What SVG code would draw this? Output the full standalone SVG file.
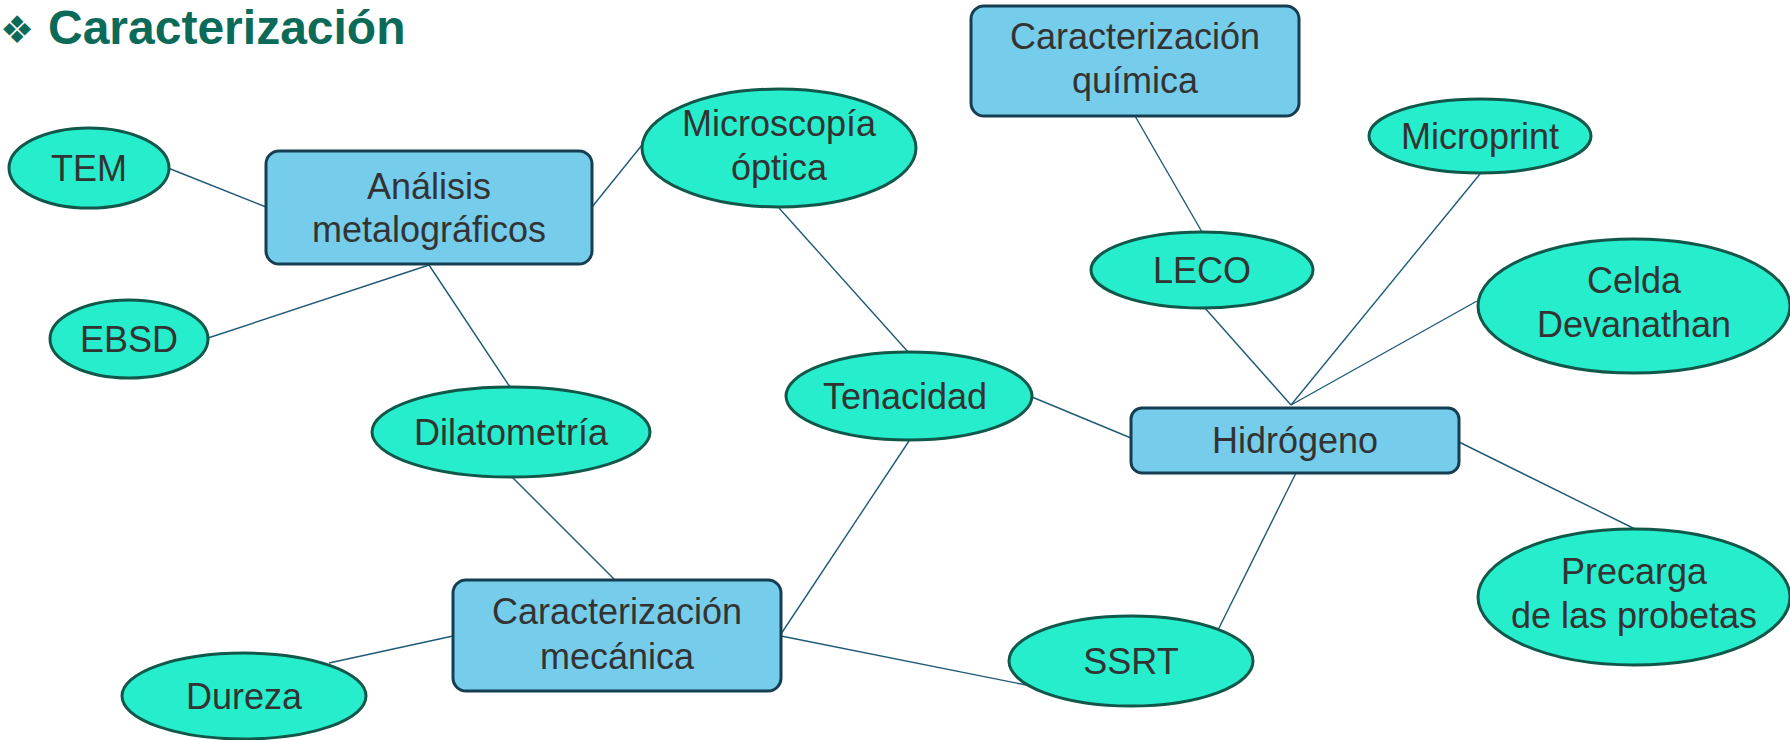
<svg xmlns="http://www.w3.org/2000/svg" width="1790" height="740" viewBox="0 0 1790 740">
<style>
.box{fill:#75CDEB;stroke:#163E52;stroke-width:3}
.ell{fill:#26EDCB;stroke:#12584A;stroke-width:3}
.t{font-family:"Liberation Sans",Arial,sans-serif;font-size:36px;fill:#333333;text-anchor:middle}
.title{font-family:"Liberation Sans",Arial,sans-serif;font-size:48px;font-weight:bold;fill:#0B6B58}
.c line{stroke:#1F5A78;stroke-width:1.4}
</style>
<rect width="1790" height="740" fill="#ffffff"/>
<g id="title">
<text x="0" y="43" font-family="DejaVu Sans,sans-serif" font-size="38" fill="#0B6B58">❖</text>
<text class="title" x="48" y="44">Caracterización</text>
</g>
<g class="c" id="connectors">
<line x1="168" y1="168" x2="266" y2="207"/>
<line x1="208" y1="338" x2="429" y2="265"/>
<line x1="429" y1="265" x2="510" y2="387"/>
<line x1="592" y1="207" x2="642" y2="145"/>
<line x1="779" y1="208" x2="909" y2="353"/>
<line x1="511" y1="476" x2="614" y2="579"/>
<line x1="329" y1="663" x2="453" y2="636"/>
<line x1="781" y1="634" x2="909" y2="441"/>
<line x1="781" y1="636" x2="1056" y2="691"/>
<line x1="1032" y1="397" x2="1131" y2="438"/>
<line x1="1291" y1="405" x2="1204" y2="307"/>
<line x1="1291" y1="405" x2="1480" y2="174"/>
<line x1="1291" y1="405" x2="1477" y2="301"/>
<line x1="1296" y1="473" x2="1218" y2="630"/>
<line x1="1459" y1="442" x2="1635" y2="529"/>
<line x1="1135" y1="116" x2="1202" y2="232"/>
</g>
<g id="analisis"><rect class="box" x="266" y="151" width="326" height="113" rx="13"/><text class="t" x="429" y="199">Análisis</text><text class="t" x="429" y="242">metalográficos</text></g>
<g id="quimica"><rect class="box" x="971" y="6" width="328" height="110" rx="13"/><text class="t" x="1135" y="49">Caracterización</text><text class="t" x="1135" y="93">química</text></g>
<g id="hidrogeno"><rect class="box" x="1131" y="408" width="328" height="65" rx="11"/><text class="t" x="1295" y="453">Hidrógeno</text></g>
<g id="mecanica"><rect class="box" x="453" y="580" width="328" height="111" rx="13"/><text class="t" x="617" y="624">Caracterización</text><text class="t" x="617" y="669">mecánica</text></g>
<g id="tem"><ellipse class="ell" cx="89" cy="168" rx="80" ry="40"/><text class="t" x="89" y="181">TEM</text></g>
<g id="ebsd"><ellipse class="ell" cx="129" cy="339" rx="79" ry="39"/><text class="t" x="129" y="352">EBSD</text></g>
<g id="microscopia"><ellipse class="ell" cx="779" cy="148" rx="137" ry="59"/><text class="t" x="779" y="136">Microscopía</text><text class="t" x="779" y="180">óptica</text></g>
<g id="dilatometria"><ellipse class="ell" cx="511" cy="432" rx="139" ry="45"/><text class="t" x="511" y="445">Dilatometría</text></g>
<g id="tenacidad"><ellipse class="ell" cx="909" cy="396" rx="123" ry="44"/><text class="t" x="905" y="409">Tenacidad</text></g>
<g id="leco"><ellipse class="ell" cx="1202" cy="270" rx="111" ry="38"/><text class="t" x="1202" y="283">LECO</text></g>
<g id="microprint"><ellipse class="ell" cx="1480" cy="136" rx="111" ry="37"/><text class="t" x="1480" y="149">Microprint</text></g>
<g id="celda"><ellipse class="ell" cx="1634" cy="306" rx="156" ry="67"/><text class="t" x="1634" y="293">Celda</text><text class="t" x="1634" y="337">Devanathan</text></g>
<g id="precarga"><ellipse class="ell" cx="1634" cy="597" rx="156" ry="68"/><text class="t" x="1634" y="584">Precarga</text><text class="t" x="1634" y="628">de las probetas</text></g>
<g id="ssrt"><ellipse class="ell" cx="1131" cy="661" rx="122" ry="45"/><text class="t" x="1131" y="674">SSRT</text></g>
<g id="dureza"><ellipse class="ell" cx="244" cy="696" rx="122" ry="43"/><text class="t" x="244" y="709">Dureza</text></g>
</svg>
